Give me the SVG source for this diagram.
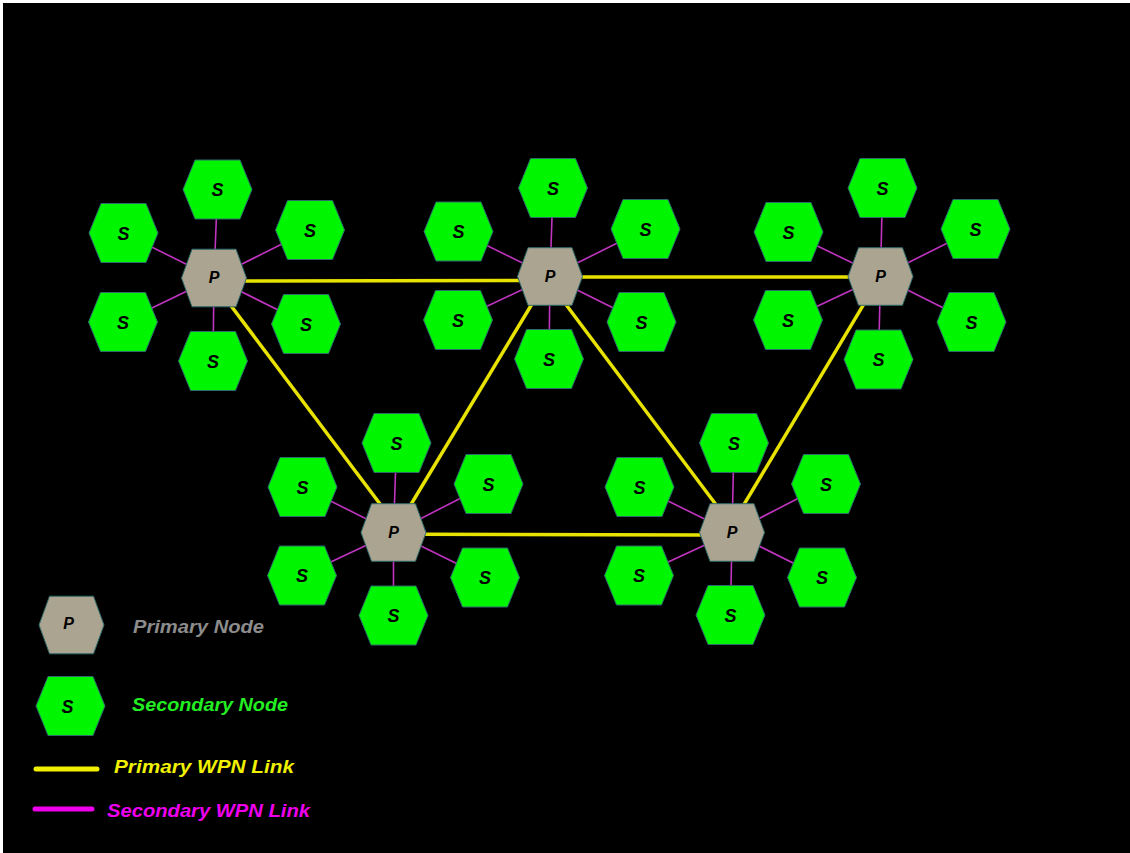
<svg xmlns="http://www.w3.org/2000/svg" xmlns:xlink="http://www.w3.org/1999/xlink" width="1130" height="853" viewBox="0 0 1130 853">
  <style>
    .hexP { fill: #aaa490; stroke: #2e6a6a; stroke-width: 1; }
    .hexS { fill: #00f500; stroke: #2e6a6a; stroke-width: 1; }
    .lbl { font-family: "Liberation Sans", Arial, sans-serif; font-weight: bold; font-style: italic; fill: #000; text-anchor: middle; }
    .lblS { font-size: 18px; }
    .lblP { font-size: 16px; }
    .plink { stroke: #e8e200; stroke-width: 3.5; fill: none; }
    .slink { stroke: #c034c0; stroke-width: 1.6; fill: none; }
    .legend { font-family: "Liberation Sans", Arial, sans-serif; font-weight: bold; font-style: italic; font-size: 18px; }
  </style>
  <defs>
    <polygon id="hexPshape" class="hexP" points="-32.5,0 -22,-28.8 22,-28.8 32.5,0 22,28.8 -22,28.8"/>
    <polygon id="hexSshape" class="hexS" points="-34.5,0 -22.5,-29.5 22.5,-29.5 34.5,0 22.5,29.5 -22.5,29.5"/>
  </defs>

  <!-- backdrop -->
  <rect x="0" y="0" width="1130" height="853" fill="#ffffff"/>
  <rect x="3" y="3" width="1127" height="850" fill="#000000"/>

  <g id="connectors">
    <!-- secondary links: primary node to each of its secondary nodes -->
    <g id="secondary-links" class="slink">
      <line x1="214" y1="278" x2="217.5" y2="189.5"/>
      <line x1="214" y1="278" x2="123.5" y2="233"/>
      <line x1="214" y1="278" x2="310" y2="230"/>
      <line x1="214" y1="278" x2="123" y2="322"/>
      <line x1="214" y1="278" x2="306" y2="324"/>
      <line x1="214" y1="278" x2="213" y2="361"/>

      <line x1="550" y1="276.5" x2="553" y2="188"/>
      <line x1="550" y1="276.5" x2="458.5" y2="231.5"/>
      <line x1="550" y1="276.5" x2="645.5" y2="229"/>
      <line x1="550" y1="276.5" x2="458" y2="320"/>
      <line x1="550" y1="276.5" x2="641.5" y2="322"/>
      <line x1="550" y1="276.5" x2="549" y2="359"/>

      <line x1="880.5" y1="276.5" x2="882.5" y2="188"/>
      <line x1="880.5" y1="276.5" x2="788.5" y2="232"/>
      <line x1="880.5" y1="276.5" x2="975.5" y2="229"/>
      <line x1="880.5" y1="276.5" x2="788" y2="320"/>
      <line x1="880.5" y1="276.5" x2="971.5" y2="322"/>
      <line x1="880.5" y1="276.5" x2="878.5" y2="359.5"/>

      <line x1="732" y1="532.5" x2="734" y2="443"/>
      <line x1="732" y1="532.5" x2="639.5" y2="487"/>
      <line x1="732" y1="532.5" x2="826" y2="484"/>
      <line x1="732" y1="532.5" x2="639" y2="575.5"/>
      <line x1="732" y1="532.5" x2="822" y2="577.5"/>
      <line x1="732" y1="532.5" x2="730.5" y2="615"/>

      <line x1="393.5" y1="532.5" x2="396.5" y2="443"/>
      <line x1="393.5" y1="532.5" x2="302.5" y2="487"/>
      <line x1="393.5" y1="532.5" x2="488.5" y2="484"/>
      <line x1="393.5" y1="532.5" x2="302" y2="575.5"/>
      <line x1="393.5" y1="532.5" x2="485" y2="577.5"/>
      <line x1="393.5" y1="532.5" x2="393.5" y2="615.5"/>
    </g>
    <!-- primary links between primary nodes -->
    <g id="primary-links" class="plink">
      <line x1="240" y1="281" x2="523" y2="280.5"/>
      <line x1="577" y1="277" x2="853" y2="277"/>
      <line x1="420" y1="534.3" x2="705" y2="535"/>
      <line x1="225.9" y1="299" x2="384.6" y2="510"/>
      <line x1="535" y1="299" x2="407.6" y2="510"/>
      <line x1="562" y1="299.3" x2="719.8" y2="509.7"/>
      <line x1="867.4" y1="298.1" x2="740.9" y2="509.6"/>
    </g>
  </g>

  <!-- cluster 1 -->
  <g id="p1" transform="translate(214,278)"><use href="#hexPshape"/><text class="lbl lblP" y="5">P</text></g>
  <g id="s1-top" transform="translate(217.5,189.5)"><use href="#hexSshape"/><text class="lbl lblS" y="6.5">S</text></g>
  <g id="s1-tl" transform="translate(123.5,233)"><use href="#hexSshape"/><text class="lbl lblS" y="6.5">S</text></g>
  <g id="s1-tr" transform="translate(310,230)"><use href="#hexSshape"/><text class="lbl lblS" y="6.5">S</text></g>
  <g id="s1-bl" transform="translate(123,322)"><use href="#hexSshape"/><text class="lbl lblS" y="6.5">S</text></g>
  <g id="s1-br" transform="translate(306,324)"><use href="#hexSshape"/><text class="lbl lblS" y="6.5">S</text></g>
  <g id="s1-bot" transform="translate(213,361)"><use href="#hexSshape"/><text class="lbl lblS" y="6.5">S</text></g>

  <!-- cluster 2 -->
  <g id="p2" transform="translate(550,276.5)"><use href="#hexPshape"/><text class="lbl lblP" y="5">P</text></g>
  <g id="s2-top" transform="translate(553,188)"><use href="#hexSshape"/><text class="lbl lblS" y="6.5">S</text></g>
  <g id="s2-tl" transform="translate(458.5,231.5)"><use href="#hexSshape"/><text class="lbl lblS" y="6.5">S</text></g>
  <g id="s2-tr" transform="translate(645.5,229)"><use href="#hexSshape"/><text class="lbl lblS" y="6.5">S</text></g>
  <g id="s2-bl" transform="translate(458,320)"><use href="#hexSshape"/><text class="lbl lblS" y="6.5">S</text></g>
  <g id="s2-br" transform="translate(641.5,322)"><use href="#hexSshape"/><text class="lbl lblS" y="6.5">S</text></g>
  <g id="s2-bot" transform="translate(549,359)"><use href="#hexSshape"/><text class="lbl lblS" y="6.5">S</text></g>

  <!-- cluster 3 -->
  <g id="p3" transform="translate(880.5,276.5)"><use href="#hexPshape"/><text class="lbl lblP" y="5">P</text></g>
  <g id="s3-top" transform="translate(882.5,188)"><use href="#hexSshape"/><text class="lbl lblS" y="6.5">S</text></g>
  <g id="s3-tl" transform="translate(788.5,232)"><use href="#hexSshape"/><text class="lbl lblS" y="6.5">S</text></g>
  <g id="s3-tr" transform="translate(975.5,229)"><use href="#hexSshape"/><text class="lbl lblS" y="6.5">S</text></g>
  <g id="s3-bl" transform="translate(788,320)"><use href="#hexSshape"/><text class="lbl lblS" y="6.5">S</text></g>
  <g id="s3-br" transform="translate(971.5,322)"><use href="#hexSshape"/><text class="lbl lblS" y="6.5">S</text></g>
  <g id="s3-bot" transform="translate(878.5,359.5)"><use href="#hexSshape"/><text class="lbl lblS" y="6.5">S</text></g>

  <!-- cluster 4 -->
  <g id="p4" transform="translate(732,532.5)"><use href="#hexPshape"/><text class="lbl lblP" y="5">P</text></g>
  <g id="s4-top" transform="translate(734,443)"><use href="#hexSshape"/><text class="lbl lblS" y="6.5">S</text></g>
  <g id="s4-tl" transform="translate(639.5,487)"><use href="#hexSshape"/><text class="lbl lblS" y="6.5">S</text></g>
  <g id="s4-tr" transform="translate(826,484)"><use href="#hexSshape"/><text class="lbl lblS" y="6.5">S</text></g>
  <g id="s4-bl" transform="translate(639,575.5)"><use href="#hexSshape"/><text class="lbl lblS" y="6.5">S</text></g>
  <g id="s4-br" transform="translate(822,577.5)"><use href="#hexSshape"/><text class="lbl lblS" y="6.5">S</text></g>
  <g id="s4-bot" transform="translate(730.5,615)"><use href="#hexSshape"/><text class="lbl lblS" y="6.5">S</text></g>

  <!-- cluster 5 -->
  <g id="p5" transform="translate(393.5,532.5)"><use href="#hexPshape"/><text class="lbl lblP" y="5">P</text></g>
  <g id="s5-top" transform="translate(396.5,443)"><use href="#hexSshape"/><text class="lbl lblS" y="6.5">S</text></g>
  <g id="s5-tl" transform="translate(302.5,487)"><use href="#hexSshape"/><text class="lbl lblS" y="6.5">S</text></g>
  <g id="s5-tr" transform="translate(488.5,484)"><use href="#hexSshape"/><text class="lbl lblS" y="6.5">S</text></g>
  <g id="s5-bl" transform="translate(302,575.5)"><use href="#hexSshape"/><text class="lbl lblS" y="6.5">S</text></g>
  <g id="s5-br" transform="translate(485,577.5)"><use href="#hexSshape"/><text class="lbl lblS" y="6.5">S</text></g>
  <g id="s5-bot" transform="translate(393.5,615.5)"><use href="#hexSshape"/><text class="lbl lblS" y="6.5">S</text></g>

  <!-- legend -->
  <g id="legend">
    <g id="legend-primary-node" transform="translate(71.5,625)"><use href="#hexPshape"/><text class="lbl lblP" x="-3" y="4">P</text></g>
    <text class="legend" x="133" y="633" fill="#8c8c8c" textLength="131" lengthAdjust="spacingAndGlyphs">Primary Node</text>

    <g id="legend-secondary-node" transform="translate(70.5,706)"><use href="#hexSshape"/><text class="lbl lblS" x="-3" y="6.5">S</text></g>
    <text class="legend" x="132" y="711" fill="#22ee22" textLength="156" lengthAdjust="spacingAndGlyphs">Secondary Node</text>

    <line x1="36" y1="769" x2="97" y2="769" stroke="#f0f000" stroke-width="5" stroke-linecap="round"/>
    <text class="legend" x="114" y="773" fill="#f0f000" textLength="180" lengthAdjust="spacingAndGlyphs">Primary WPN Link</text>

    <line x1="35" y1="809" x2="92" y2="809" stroke="#ee00ee" stroke-width="5" stroke-linecap="round"/>
    <text class="legend" x="107" y="817" fill="#ee00ee" textLength="203" lengthAdjust="spacingAndGlyphs">Secondary WPN Link</text>
  </g>
</svg>
